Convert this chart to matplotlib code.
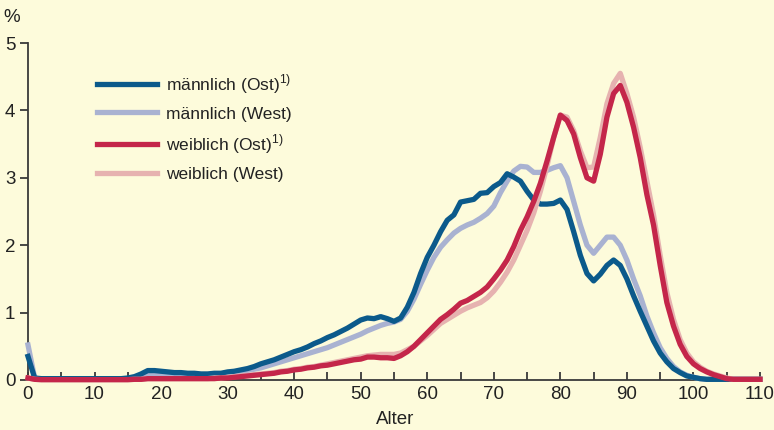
import numpy as np
import matplotlib
matplotlib.use("Agg")
import matplotlib.pyplot as plt

plt.rcParams['font.family'] = ['Liberation Sans', 'DejaVu Sans']
plt.rcParams['mathtext.fontset'] = 'custom'
plt.rcParams['mathtext.rm'] = 'Liberation Sans'

ages = list(range(0, 111))

maennlich_ost = [
    0.35, 0.03, 0.02, 0.02, 0.02, 0.02, 0.02, 0.02, 0.02, 0.02,   # 0-9
    0.02, 0.02, 0.02, 0.02, 0.02, 0.03, 0.05, 0.09, 0.14, 0.14,   # 10-19
    0.13, 0.12, 0.11, 0.11, 0.10, 0.10, 0.09, 0.09, 0.10, 0.10,   # 20-29
    0.12, 0.13, 0.15, 0.17, 0.20, 0.24, 0.27, 0.30, 0.34, 0.38,   # 30-39
    0.42, 0.45, 0.49, 0.54, 0.58, 0.63, 0.67, 0.72, 0.77, 0.83,   # 40-49
    0.89, 0.92, 0.91, 0.94, 0.91, 0.87, 0.92, 1.08, 1.30, 1.58,   # 50-59
    1.82, 2.00, 2.20, 2.37, 2.45, 2.64, 2.66, 2.68, 2.77, 2.78,   # 60-69
    2.87, 2.93, 3.06, 3.01, 2.95, 2.80, 2.67, 2.61, 2.61, 2.62,   # 70-79
    2.67, 2.53, 2.20, 1.85, 1.58, 1.47, 1.57, 1.70, 1.78, 1.70,   # 80-89
    1.50, 1.25, 1.02, 0.80, 0.58, 0.40, 0.27, 0.17, 0.11, 0.06,   # 90-99
    0.04, 0.02, 0.01, 0.01, 0.01, 0.01, 0.01, 0.01, 0.01, 0.01,   # 100-109
    0.01]

maennlich_west = [
    0.52, 0.03, 0.01, 0.01, 0.01, 0.01, 0.01, 0.01, 0.01, 0.01,
    0.01, 0.01, 0.01, 0.01, 0.01, 0.01, 0.03, 0.05, 0.07, 0.08,
    0.08, 0.08, 0.07, 0.07, 0.07, 0.06, 0.06, 0.06, 0.06, 0.07,
    0.08, 0.10, 0.12, 0.14, 0.16, 0.18, 0.21, 0.24, 0.27, 0.30,
    0.33, 0.36, 0.39, 0.42, 0.45, 0.48, 0.52, 0.56, 0.60, 0.64,
    0.68, 0.73, 0.77, 0.81, 0.84, 0.86, 0.90, 1.02, 1.20, 1.42,
    1.63, 1.82, 1.97, 2.08, 2.18, 2.25, 2.30, 2.34, 2.40, 2.47,
    2.58, 2.78, 2.95, 3.10, 3.17, 3.16, 3.08, 3.08, 3.11, 3.15,
    3.18, 3.00, 2.65, 2.30, 2.00, 1.88, 2.00, 2.12, 2.12, 2.00,
    1.78, 1.50, 1.25, 0.95, 0.70, 0.48, 0.32, 0.20, 0.12, 0.07,
    0.04, 0.02, 0.01, 0.01, 0.01, 0.01, 0.01, 0.01, 0.01, 0.01,
    0.01]

weiblich_ost = [
    0.03, 0.01, 0.005, 0.005, 0.005, 0.005, 0.005, 0.005, 0.005, 0.005,
    0.005, 0.005, 0.005, 0.005, 0.005, 0.005, 0.01, 0.01, 0.02, 0.02,
    0.02, 0.02, 0.02, 0.02, 0.02, 0.02, 0.02, 0.02, 0.02, 0.03,
    0.03, 0.04, 0.05, 0.06, 0.07, 0.08, 0.09, 0.10, 0.12, 0.13,
    0.15, 0.16, 0.18, 0.19, 0.21, 0.22, 0.24, 0.26, 0.28, 0.30,
    0.31, 0.34, 0.34, 0.33, 0.33, 0.32, 0.36, 0.42, 0.50, 0.60,
    0.70, 0.80, 0.90, 0.97, 1.05, 1.14, 1.18, 1.24, 1.30, 1.38,
    1.50, 1.63, 1.78, 1.98, 2.22, 2.42, 2.65, 2.92, 3.25, 3.60,
    3.93, 3.85, 3.65, 3.30, 3.00, 2.95, 3.35, 3.90, 4.25, 4.37,
    4.12, 3.75, 3.30, 2.75, 2.30, 1.70, 1.15, 0.80, 0.53, 0.35,
    0.24, 0.17, 0.12, 0.08, 0.05, 0.02, 0.01, 0.01, 0.01, 0.01,
    0.01]

weiblich_west = [
    0.03, 0.01, 0.005, 0.005, 0.005, 0.005, 0.005, 0.005, 0.005, 0.005,
    0.005, 0.005, 0.005, 0.005, 0.005, 0.005, 0.01, 0.01, 0.02, 0.02,
    0.02, 0.02, 0.02, 0.02, 0.02, 0.02, 0.02, 0.02, 0.03, 0.03,
    0.04, 0.05, 0.06, 0.07, 0.08, 0.09, 0.10, 0.11, 0.13, 0.14,
    0.16, 0.17, 0.19, 0.20, 0.22, 0.24, 0.26, 0.28, 0.30, 0.32,
    0.34, 0.36, 0.37, 0.38, 0.38, 0.38, 0.40, 0.45, 0.50, 0.58,
    0.66, 0.75, 0.84, 0.90, 0.96, 1.02, 1.07, 1.11, 1.15, 1.22,
    1.32, 1.45, 1.60, 1.78, 2.00, 2.22, 2.48, 2.80, 3.18, 3.60,
    3.93, 3.90, 3.70, 3.40, 3.15, 3.16, 3.60, 4.10, 4.40, 4.55,
    4.25, 3.90, 3.45, 2.95, 2.45, 1.85, 1.30, 0.90, 0.60, 0.40,
    0.27, 0.19, 0.13, 0.09, 0.06, 0.03, 0.01, 0.01, 0.01, 0.01,
    0.01]

labels = ['männlich (Ost)$^{\\mathrm{1)}}$', 'männlich (West)',
          'weiblich (Ost)$^{\\mathrm{1)}}$', 'weiblich (West)']

bg = '#FDFBDB'
c_mo = '#0B5A8B'
c_mw = '#A9B2D1'
c_wo = '#C4264A'
c_ww = '#E6B2B0'
axc = '#3A3A3A'

fig = plt.figure(figsize=(7.74, 4.30), dpi=100, facecolor=bg)
ax = fig.add_axes([28/774, 1-380/430, 732/774, 337/430], facecolor=bg)

lw = 3.8
l_mo, = ax.plot(ages, maennlich_ost, color=c_mo, lw=lw, zorder=4, clip_on=False)
l_mw, = ax.plot(ages, maennlich_west, color=c_mw, lw=lw, zorder=3, clip_on=False)
l_wo, = ax.plot(ages, weiblich_ost, color=c_wo, lw=lw, zorder=6, clip_on=False)
l_ww, = ax.plot(ages, weiblich_west, color=c_ww, lw=lw, zorder=5, clip_on=False)

ax.set_xlim(0, 110)
ax.set_ylim(0, 5)
for s in ['top', 'right']:
    ax.spines[s].set_visible(False)
for s in ['left', 'bottom']:
    ax.spines[s].set_color(axc)
    ax.spines[s].set_linewidth(1.3)
    ax.spines[s].set_zorder(1)

ax.set_xticks(range(0, 111, 5))
ax.set_xticklabels([str(v) if v % 10 == 0 else '' for v in range(0, 111, 5)])
ax.set_yticks(range(0, 6))
ax.tick_params(axis='x', direction='in', length=6, width=1.3, color=axc,
               labelsize=13.5, labelcolor='#222222', pad=4)
ax.tick_params(axis='y', direction='out', length=6, width=1.3, color=axc,
               labelsize=13.5, labelcolor='#222222', pad=3)

fig.text(12/774, 1-18/430, '%', fontsize=13.5, color='#222222', ha='center', va='center')
fig.text(395/774, 1-420/430, 'Alter', fontsize=13.5, color='#222222', ha='center', va='center')

leg = ax.legend([l_mo, l_mw, l_wo, l_ww], labels, loc='upper left',
                bbox_to_anchor=(97/774, 1-72/430), bbox_transform=fig.transFigure,
                frameon=False, fontsize=12.5, handlelength=3.45, handletextpad=0.5,
                labelspacing=0.62, borderpad=0, borderaxespad=0)
for t in leg.get_texts():
    t.set_color('#222222')

fig.savefig('out.png', dpi=100, facecolor=bg)
